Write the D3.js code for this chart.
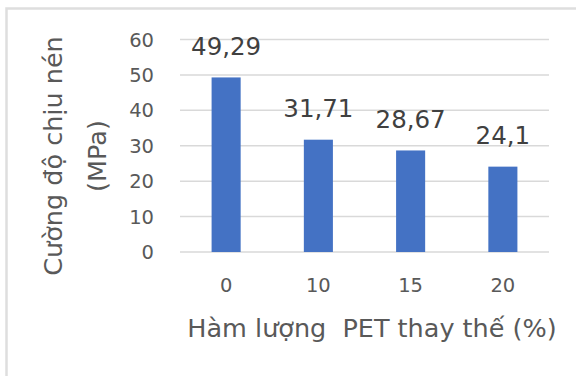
<!DOCTYPE html>
<html><head><meta charset="utf-8">
<script src="https://cdn.jsdelivr.net/npm/d3@7"></script>
<style>body{margin:0;background:#fff}svg{display:block}</style>
</head><body>
<svg id="c" width="576" height="376"></svg>
<script>
const categories = ["0", "10", "15", "20"];
const values = [49.29, 31.71, 28.67, 24.1];
const valueLabels = ["49,29", "31,71", "28,67", "24,1"];
const yTicks = [0, 10, 20, 30, 40, 50, 60];
const yTitleLines = ["Cường độ chịu nén", "(MPa)"];
const xTitle = "Hàm lượng  PET thay thế (%)";

const svg = d3.select("#c");
const font = "'DejaVu Sans', sans-serif";
const txt = "#595959";

// chart border (extends past the image on the right and bottom)
svg.append("rect").attr("x", 6.5).attr("y", 8.5).attr("width", 600).attr("height", 400)
  .attr("fill", "none").attr("stroke", "#dedede").attr("stroke-width", 2.5);

const x = d3.scaleBand().domain(categories).range([180, 549]).padding(0);
const y = d3.scaleLinear().domain([0, 60]).range([252, 39.5]);

// gridlines
svg.append("g").selectAll("line").data(yTicks).join("line")
  .attr("x1", 180).attr("x2", 549)
  .attr("y1", d => y(d)).attr("y2", d => y(d))
  .attr("stroke", "#d9d9d9").attr("stroke-width", 1.5);

// y tick labels
svg.append("g").selectAll("text").data(yTicks).join("text")
  .attr("x", 154).attr("y", d => y(d)).attr("dy", "0.36em")
  .attr("text-anchor", "end").attr("font-family", font).attr("font-size", 19.5)
  .attr("fill", txt).text(d => d);

// bars
const bw = x.bandwidth() * 0.315;
svg.append("g").selectAll("rect").data(values).join("rect")
  .attr("x", (d, i) => x(categories[i]) + x.bandwidth() / 2 - bw / 2)
  .attr("width", bw)
  .attr("y", d => y(d)).attr("height", d => y(0) - y(d))
  .attr("fill", "#4472C4");

// data labels
svg.append("g").selectAll("text").data(values).join("text")
  .attr("x", (d, i) => x(categories[i]) + x.bandwidth() / 2)
  .attr("y", d => y(d) - 22.5)
  .attr("text-anchor", "middle").attr("font-family", font).attr("font-size", 24.5)
  .attr("fill", "#404040").text((d, i) => valueLabels[i]);

// x tick labels
svg.append("g").selectAll("text").data(categories).join("text")
  .attr("x", d => x(d) + x.bandwidth() / 2).attr("y", 292)
  .attr("text-anchor", "middle").attr("font-family", font).attr("font-size", 19.5)
  .attr("fill", txt).text(d => d);

// x title
svg.append("text").attr("x", 372).attr("y", 337)
  .attr("text-anchor", "middle").attr("font-family", font).attr("font-size", 25.5)
  .attr("fill", txt).attr("xml:space", "preserve").style("white-space", "pre").text(xTitle);

// y title
const yt = svg.append("text").attr("transform", "translate(0,156) rotate(-90)")
  .attr("text-anchor", "middle").attr("font-family", font).attr("font-size", 25.5).attr("fill", txt);
yTitleLines.forEach((l, i) => {
  yt.append("tspan").attr("x", 0).attr("y", i === 0 ? 62 : 106).text(l);
});
</script>
</body></html>
